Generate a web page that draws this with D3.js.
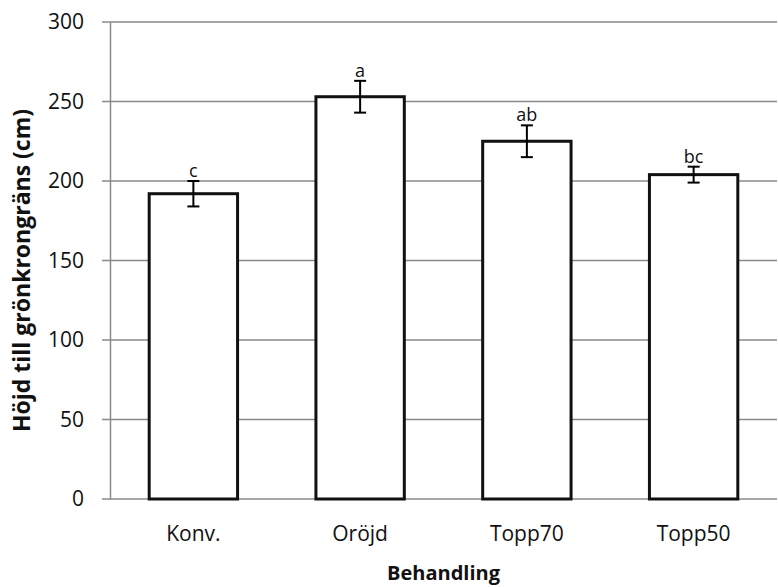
<!DOCTYPE html>
<html>
<head>
<meta charset="utf-8">
<script src="https://cdn.jsdelivr.net/npm/d3@7"></script>
<style>
  body { margin: 0; background: #fff; }
  svg { display: block; font-family: "Open Sans", "Noto Sans", sans-serif; }
</style>
</head>
<body>
<svg id="chart" width="778" height="587"></svg>
<script>
// Treatment groups, mean height to live crown, standard error and significance letters
const categories = ["Konv.", "Oröjd", "Topp70", "Topp50"];
const values = [192, 253, 225, 204];
const errors = [8, 10, 10, 5];
const letters = ["c", "a", "ab", "bc"];
const yTicks = [0, 50, 100, 150, 200, 250, 300];

const svg = d3.select("#chart");
const margin = { top: 22, right: 1, bottom: 88, left: 110 };
const W = 778, H = 587;
const FONT = "Open Sans, Noto Sans, sans-serif";

const x = d3.scaleBand()
  .domain(categories)
  .range([margin.left, W - margin.right])
  .paddingInner(0.47)
  .paddingOuter(0.235);

const y = d3.scaleLinear()
  .domain([0, 300])
  .range([H - margin.bottom, margin.top]);

// Horizontal gridlines with outside ticks
svg.append("g")
  .selectAll("line")
  .data(yTicks)
  .join("line")
  .attr("x1", margin.left - 8)
  .attr("x2", W - margin.right)
  .attr("y1", d => y(d))
  .attr("y2", d => y(d))
  .attr("stroke", "#8a8a8a")
  .attr("stroke-width", 1.5);

// Y axis
const yAxis = svg.append("g")
  .attr("transform", `translate(${margin.left},0)`)
  .call(d3.axisLeft(y).tickValues(yTicks).tickSize(0).tickPadding(26));
yAxis.select(".domain").attr("stroke", "#8a8a8a").attr("stroke-width", 1.5);
yAxis.selectAll("text")
  .attr("font-size", 21)
  .attr("fill", "#111")
  .attr("font-family", FONT);

// Bars
svg.append("g")
  .selectAll("rect")
  .data(categories)
  .join("rect")
  .attr("x", d => x(d))
  .attr("width", x.bandwidth())
  .attr("y", (d, i) => y(values[i]))
  .attr("height", (d, i) => y(0) - y(values[i]))
  .attr("fill", "#fff")
  .attr("stroke", "#111")
  .attr("stroke-width", 3);

// Error bars
const eb = svg.append("g").attr("stroke", "#000").attr("stroke-width", 2);
categories.forEach((c, i) => {
  const cx = x(c) + x.bandwidth() / 2;
  const top = y(values[i] + errors[i]);
  const bot = y(values[i] - errors[i]);
  eb.append("line").attr("x1", cx).attr("x2", cx).attr("y1", top).attr("y2", bot);
  eb.append("line").attr("x1", cx - 6).attr("x2", cx + 6).attr("y1", top).attr("y2", top);
  eb.append("line").attr("x1", cx - 6).attr("x2", cx + 6).attr("y1", bot).attr("y2", bot);
});

// Significance letters above error bars
svg.append("g")
  .selectAll("text")
  .data(categories)
  .join("text")
  .attr("x", d => x(d) + x.bandwidth() / 2)
  .attr("y", (d, i) => y(values[i] + errors[i]) - 4)
  .attr("text-anchor", "middle")
  .attr("font-size", 18)
  .attr("fill", "#111")
  .text((d, i) => letters[i]);

// Category labels
svg.append("g")
  .selectAll("text")
  .data(categories)
  .join("text")
  .attr("x", d => x(d) + x.bandwidth() / 2)
  .attr("y", 541)
  .attr("text-anchor", "middle")
  .attr("font-size", 21)
  .attr("fill", "#111")
  .text(d => d);

// Axis titles
svg.append("text")
  .attr("x", (margin.left + W - margin.right) / 2)
  .attr("y", 580)
  .attr("text-anchor", "middle")
  .attr("font-size", 20)
  .attr("font-weight", "bold")
  .attr("fill", "#111")
  .text("Behandling");

svg.append("text")
  .attr("transform", `translate(30,${(margin.top + H - margin.bottom) / 2 + 10}) rotate(-90)`)
  .attr("text-anchor", "middle")
  .attr("font-size", 23)
  .attr("font-weight", "bold")
  .attr("fill", "#111")
  .text("Höjd till grönkrongräns (cm)");
</script>
</body>
</html>
